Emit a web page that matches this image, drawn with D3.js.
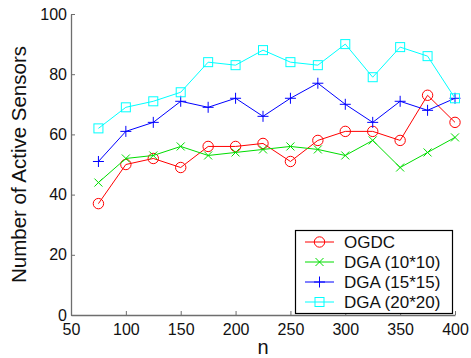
<!DOCTYPE html>
<html>
<head>
<meta charset="utf-8">
<script src="https://cdn.jsdelivr.net/npm/d3@7"></script>
<style>
  body { margin: 0; background: #fff; }
  svg { display: block; font-family: "Liberation Sans", Arial, sans-serif; }
</style>
</head>
<body>
<svg id="chart"></svg>
<script>
const nValues = [75, 100, 125, 150, 175, 200, 225, 250, 275, 300, 325, 350, 375, 400];
const ogdc = [37, 50, 52, 49, 56, 56, 57, 51, 58, 61, 61, 58, 73, 64];
const dga10 = [44, 52, 53, 56, 53, 54, 55, 56, 55, 53, 58, 49, 54, 59];
const dga15 = [51, 61, 64, 71, 69, 72, 66, 72, 77, 70, 64, 71, 68, 72];
const dga20 = [62, 69, 71, 74, 84, 83, 88, 84, 83, 90, 79, 89, 86, 72];
const xTicks = [50, 100, 150, 200, 250, 300, 350, 400];
const yTicks = [0, 20, 40, 60, 80, 100];

const series = [
  { name: "OGDC", values: ogdc, color: "#ff0000", marker: "circle" },
  { name: "DGA (10*10)", values: dga10, color: "#00dd00", marker: "x" },
  { name: "DGA (15*15)", values: dga15, color: "#0000ff", marker: "plus" },
  { name: "DGA (20*20)", values: dga20, color: "#00ffff", marker: "square" }
];

const width = 471, height = 358;
const margin = { left: 71, right: 16, top: 14, bottom: 43 };

const svg = d3.select("#chart").attr("width", width).attr("height", height);

const x = d3.scaleLinear().domain([50, 400]).range([margin.left, width - margin.right]);
const y = d3.scaleLinear().domain([0, 100]).range([height - margin.bottom, margin.top]);

const axisColor = "#6e6e6e";

// axes with inward ticks, MATLAB style
const xAxis = svg.append("g")
  .attr("transform", `translate(0, ${y(0)})`)
  .call(d3.axisBottom(x).tickValues(xTicks).tickSize(-4).tickPadding(9).tickSizeOuter(0));
const yAxis = svg.append("g")
  .attr("transform", `translate(${x(50)}, 0)`)
  .call(d3.axisLeft(y).tickValues(yTicks).tickSize(-4).tickPadding(4).tickSizeOuter(0));

[xAxis, yAxis].forEach(ax => {
  ax.select(".domain").attr("stroke", axisColor).attr("stroke-width", 1.3);
  ax.selectAll(".tick line").attr("stroke", axisColor);
  ax.selectAll(".tick text")
    .attr("fill", "#111")
    .attr("font-size", 16)
    .attr("font-family", "'Liberation Sans', Arial, sans-serif");
});

svg.append("text")
  .attr("x", (x(50) + x(400)) / 2)
  .attr("y", 354)
  .attr("text-anchor", "middle")
  .attr("font-size", 20)
  .attr("fill", "#111")
  .text("n");

svg.append("text")
  .attr("transform", `translate(26, ${(y(0) + y(100)) / 2}) rotate(-90)`)
  .attr("text-anchor", "middle")
  .attr("font-size", 20.5)
  .attr("fill", "#111")
  .text("Number of Active Sensors");

const drawMarker = (g, kind, cx, cy, color) => {
  if (kind === "circle") {
    g.append("circle").attr("cx", cx).attr("cy", cy).attr("r", 5.2)
      .attr("fill", "none").attr("stroke", color).attr("stroke-width", 1);
  } else if (kind === "square") {
    g.append("rect").attr("x", cx - 4.5).attr("y", cy - 4.5).attr("width", 9).attr("height", 9)
      .attr("fill", "none").attr("stroke", color).attr("stroke-width", 1);
  } else if (kind === "plus") {
    g.append("path").attr("d", `M${cx - 5.5},${cy}H${cx + 5.5}M${cx},${cy - 5.5}V${cy + 5.5}`)
      .attr("stroke", color).attr("stroke-width", 1);
  } else {
    g.append("path").attr("d", `M${cx - 4},${cy - 4}L${cx + 4},${cy + 4}M${cx - 4},${cy + 4}L${cx + 4},${cy - 4}`)
      .attr("stroke", color).attr("stroke-width", 1);
  }
};

const line = d3.line().x(d => x(d[0])).y(d => y(d[1]));

series.forEach(s => {
  const pts = nValues.map((n, i) => [n, s.values[i]]);
  const g = svg.append("g");
  g.append("path").datum(pts).attr("d", line)
    .attr("fill", "none").attr("stroke", s.color).attr("stroke-width", 1);
  pts.forEach(p => drawMarker(g, s.marker, x(p[0]), y(p[1]), s.color));
});

// legend
const legend = svg.append("g");
legend.append("rect")
  .attr("x", 295.5).attr("y", 230.5).attr("width", 157).attr("height", 83)
  .attr("fill", "#fff").attr("stroke", "#000").attr("stroke-width", 1.2);

series.forEach((s, i) => {
  const ly = 242 + i * 20;
  legend.append("line").attr("x1", 305).attr("x2", 334).attr("y1", ly).attr("y2", ly)
    .attr("stroke", s.color).attr("stroke-width", 1);
  drawMarker(legend, s.marker, 319.5, ly, s.color);
  legend.append("text").attr("x", 344).attr("y", ly + 6)
    .attr("font-size", 17).attr("fill", "#111").text(s.name);
});
</script>
</body>
</html>
